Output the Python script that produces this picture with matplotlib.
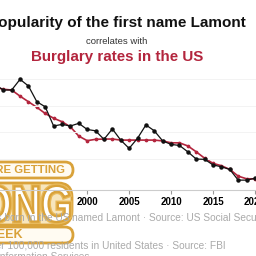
import matplotlib
matplotlib.use("Agg")
import matplotlib.pyplot as plt
from matplotlib.patches import FancyBboxPatch, PathPatch
from matplotlib.textpath import TextPath
from matplotlib.font_manager import FontProperties
from matplotlib.transforms import Affine2D
import matplotlib.patheffects as pe

plt.rcParams['font.family'] = ['Liberation Sans', 'DejaVu Sans']

YEARS = list(range(1989, 2021))
# babies named Lamont (relative units)
LAMONT = [430, 409, 409, 449, 424, 365, 346, 274, 280, 274, 284, 261, 256, 224,
          263, 221, 190, 228, 278, 256, 218, 205, 201, 177, 150, 149, 128, 121,
          111, 71, 71, 78]
# burglary rate per 100,000 residents
BURGLARY = [1283, 1260, 1252, 1187, 1128, 1069, 1004, 954, 917, 863, 765, 717,
            731, 734, 734, 723, 723, 723, 723, 723, 714, 694, 694, 661, 599, 531,
            477, 452, 413, 342, 314, 314]
XTICKS = [2000, 2005, 2010, 2015, 2020]

RED = '#b3253d'
GOLD = '#d9a23a'
W = 256.0

fig = plt.figure(figsize=(2.56, 2.56), dpi=100)
fig.patch.set_facecolor('white')

ax = fig.add_axes([0, (W - 190) / W, 1, 120 / W])
ax2 = ax.twinx()
ax.set_xlim(1989.61, 2020.12)
ax.set_ylim(34, 484)
ax2.set_ylim(195.7, 1463.4)

for g in [150, 250, 350, 450]:
    ax.axhline(g, color='#f3f3f3', lw=0.7, zorder=0)

ax2.plot(YEARS, BURGLARY, color=RED, lw=1.2, marker='o', ms=1.7, zorder=2)
ax.plot(YEARS, LAMONT, color='#111111', lw=0.9, marker='o', ms=2.2, zorder=3)
ax.set_zorder(ax2.get_zorder() + 1)
ax.patch.set_visible(False)

for a in (ax, ax2):
    for s in ['top', 'right', 'left']:
        a.spines[s].set_visible(False)
    a.set_yticks([])
ax2.spines['bottom'].set_visible(False)
ax.spines['bottom'].set_color('#cccccc')
ax.spines['bottom'].set_linewidth(0.8)
ax.set_xticks(XTICKS)
ax.set_xticklabels([str(t) for t in XTICKS], fontsize=7, fontweight='bold')
ax.tick_params(axis='x', length=3, color='#999999', pad=2)

fig.text(117 / W, 1 - 23 / W, 'Popularity of the first name Lamont', ha='center',
         va='center', fontsize=11, fontweight='bold', color='#111111')
fig.text(117 / W, 1 - 42 / W, 'correlates with', ha='center', va='center',
         fontsize=6.8, color='#333333')
fig.text(117 / W, 1 - 57 / W, 'Burglary rates in the US', ha='center', va='center',
         fontsize=10.9, fontweight='bold', color=RED)

grey = '#aaaaaa'
fig.text(72 / W, 1 - 218 / W, 'Babies of all sexes born in the US ', ha='right',
         va='center', fontsize=7.3, color=grey)
fig.text(72 / W, 1 - 218 / W, 'named Lamont · Source: US Social Security Administration',
         ha='left', va='center', fontsize=7.3, color=grey)
fig.text(226 / W, 1 - 246 / W,
         'Burglary rates per 100,000 residents in United States · Source: FBI',
         ha='right', va='center', fontsize=7.3, color=grey)
fig.text(-3 / W, 1 - 257 / W, 'Information Services', ha='left', va='center',
         fontsize=7.3, color=grey)

# badge overlay
ov = fig.add_axes([0, 0, 1, 1])
ov.set_xlim(0, W)
ov.set_ylim(0, W)
ov.axis('off')

def pill(x0, y_top, x1, y_bot, face, r):
    p = FancyBboxPatch((x0, W - y_bot), x1 - x0, y_bot - y_top,
                       boxstyle='round,pad=0,rounding_size=%g' % r,
                       facecolor=face, edgecolor=GOLD, lw=2)
    ov.add_patch(p)

pill(-30, 162, 73, 178, '#fffbf2', 8)
ov.text(65, W - 170, 'ARE GETTING', ha='right', va='center', fontsize=8.2,
        fontweight='bold', color=GOLD)

pill(-30, 183, 72, 225, '#f7e6bd', 14)
fp = FontProperties(family='Liberation Sans', weight='bold')
tp = TextPath((0, 0), 'LONG', size=30, prop=fp)
ext = tp.get_extents()
tr = Affine2D().translate(-ext.x1, -ext.y0).scale(1.35, 1.7).translate(70, W - 222)
ov.add_patch(PathPatch(tr.transform_path(tp), facecolor='white', edgecolor=GOLD,
                       lw=1.6, path_effects=[pe.withStroke(linewidth=3.5, foreground='#e8b95a')]))

pill(-30, 227, 73, 243, '#fffbf2', 8)
ov.text(23, W - 235, 'WEEK', ha='right', va='center', fontsize=9,
        fontweight='bold', color=GOLD)

fig.savefig('out.png', dpi=100)
